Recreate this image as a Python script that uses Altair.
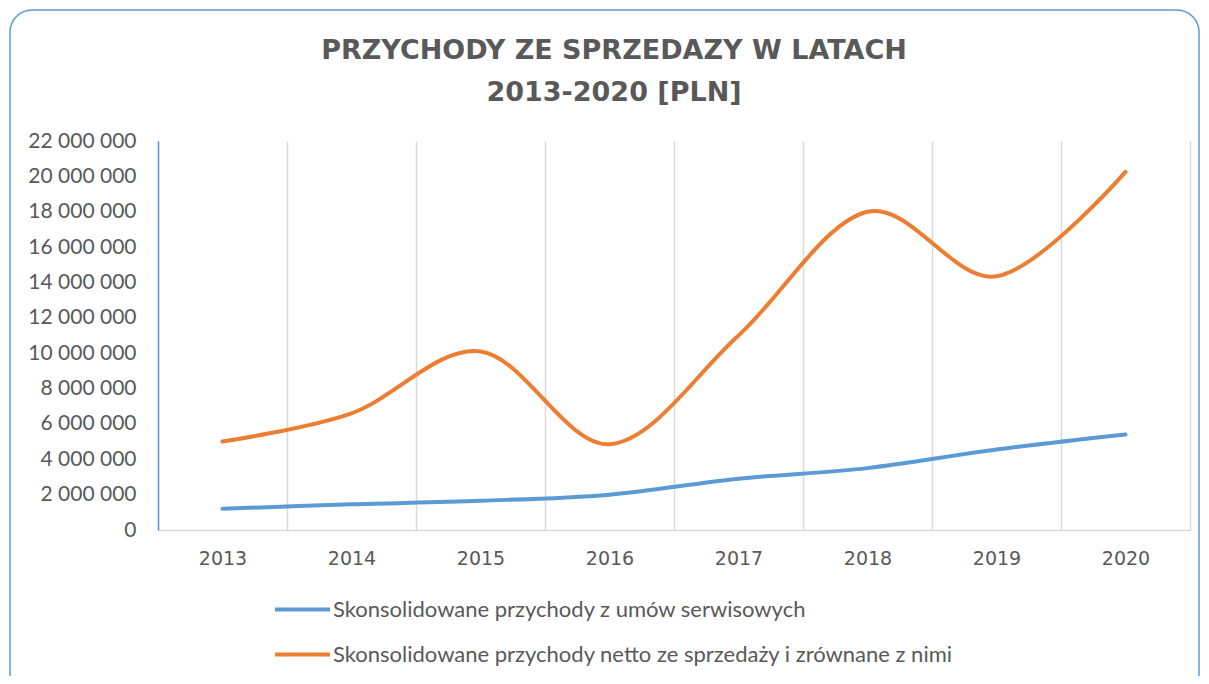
import altair as alt
import pandas as pd

years = ["2013", "2014", "2015", "2016", "2017", "2018", "2019", "2020"]
serwis = [1200000, 1450000, 1650000, 2000000, 2900000, 3500000, 4550000, 5400000]
netto = [5000000, 6600000, 10100000, 4850000, 11000000, 18000000, 14350000, 20250000]
series_names = [
    "Skonsolidowane przychody z umów serwisowych",
    "Skonsolidowane przychody netto ze sprzedaży i zrównane z nimi",
]
colors = ["#5B9BD5", "#ED7D31"]
y_ticks = [0, 2000000, 4000000, 6000000, 8000000, 10000000, 12000000,
           14000000, 16000000, 18000000, 20000000, 22000000]
title_lines = ["PRZYCHODY ZE SPRZEDAZY W LATACH", "2013-2020 [PLN]"]

rows = []
for i, yr in enumerate(years):
    rows.append({"rok": yr, "seria": series_names[0], "wartosc": serwis[i]})
    rows.append({"rok": yr, "seria": series_names[1], "wartosc": netto[i]})
df = pd.DataFrame(rows)

W, H = 1032, 389
TXT = "#595959"

lines = alt.Chart(df).mark_line(interpolate="cardinal", strokeWidth=4, strokeCap="round").encode(
    x=alt.X(
        "rok:O", sort=years, bandPosition=0.5,
        scale=alt.Scale(type="band", paddingInner=0, paddingOuter=0),
        axis=alt.Axis(title=None, labelAngle=0, ticks=False, tickBand="extent",
                      grid=True, gridColor="#d9d9d9", gridWidth=1.5,
                      domainColor="#d9d9d9", domainWidth=1.5,
                      labelFont="DejaVu Sans", labelFontSize=19, labelColor=TXT,
                      labelPadding=19),
    ),
    y=alt.Y(
        "wartosc:Q",
        scale=alt.Scale(domain=[0, 22000000], nice=False),
        axis=alt.Axis(title=None, values=y_ticks, grid=False, ticks=False,
                      domainColor="#5B9BD5", domainWidth=1.5,
                      labelExpr="replace(format(datum.value, ','), /,/g, ' ')",
                      labelFont="Lato", labelFontSize=21, labelColor=TXT,
                      labelPadding=22),
    ),
    color=alt.Color(
        "seria:N", sort=series_names,
        scale=alt.Scale(domain=series_names, range=colors),
        legend=alt.Legend(orient="none", legendX=115, legendY=439, direction="vertical",
                          title=None, symbolType="stroke", symbolSize=3025,
                          symbolStrokeWidth=4, labelFont="Lato", labelFontSize=22,
                          labelColor=TXT, rowPadding=4, labelOffset=1,
                          labelLimit=800, padding=0),
    ),
)

border = alt.Chart(pd.DataFrame({"k": [0]})).mark_rect(
    fillOpacity=0, stroke="#5B9BD5", strokeWidth=1.5, cornerRadius=22
).encode(
    x=alt.value(-148), x2=alt.value(1041), y=alt.value(-131), y2=alt.value(600)
)

chart = alt.layer(border, lines).properties(
    width=W, height=H,
    autosize="none",
    padding={"left": 150, "top": 133, "right": 11, "bottom": 146},
    background="white",
    title=alt.Title(title_lines, font="DejaVu Sans", fontSize=27, fontWeight="bold",
                    color=TXT, lineHeight=42, offset=0, dy=98, anchor="middle", dx=-60,
                    frame="group"),
).configure_view(stroke=None)

chart.save("out.html", embed_options={"renderer": "svg", "actions": False})
